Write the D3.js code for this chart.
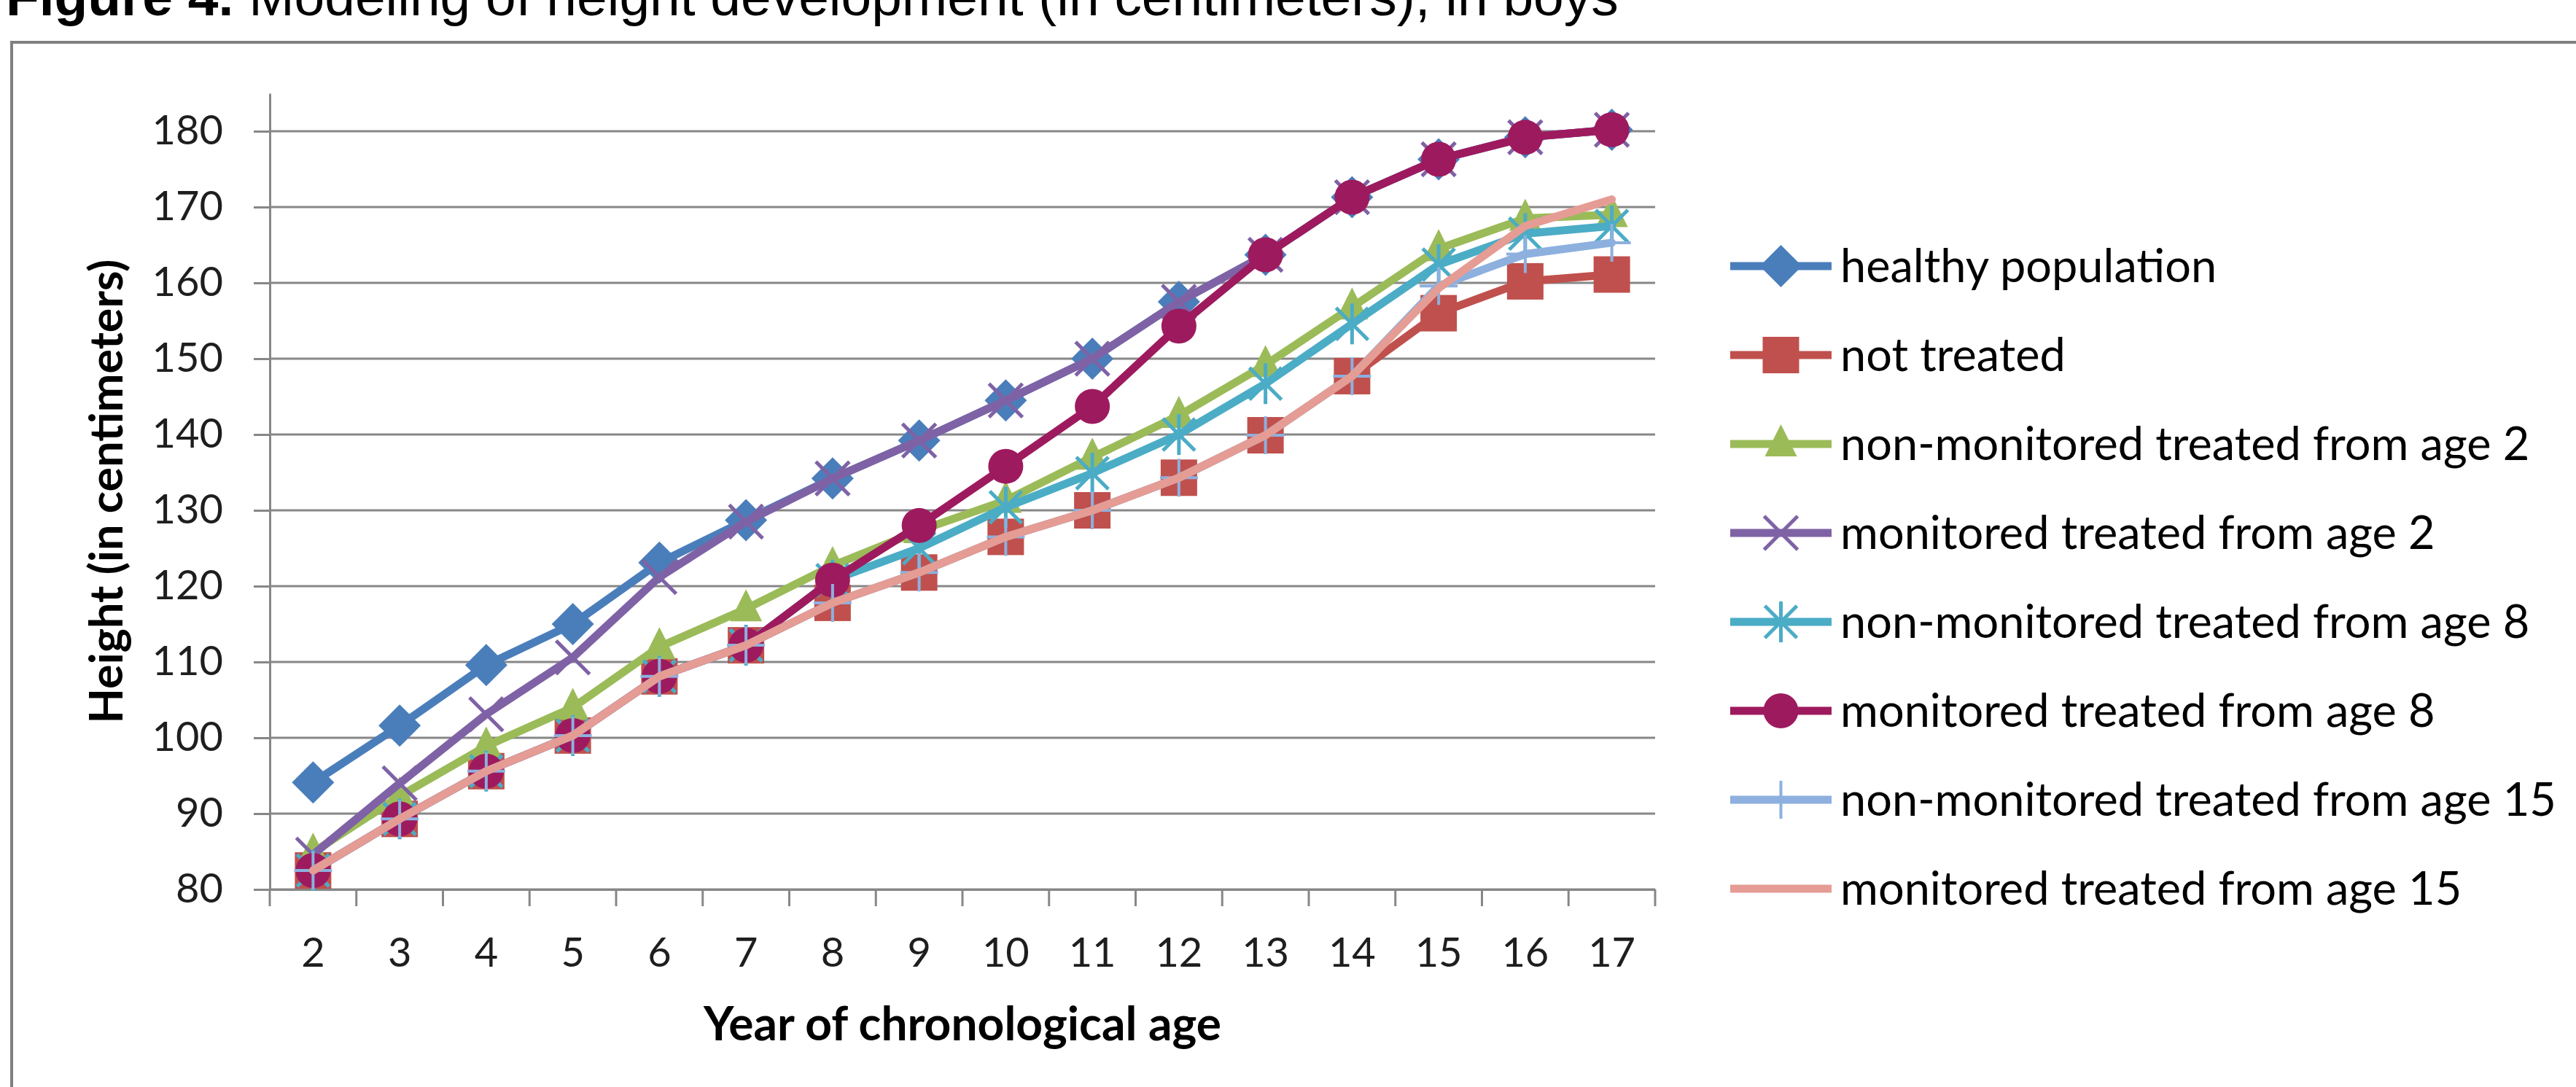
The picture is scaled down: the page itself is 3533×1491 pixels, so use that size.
<!DOCTYPE html>
<html><head><meta charset="utf-8">
<script src="https://cdn.jsdelivr.net/npm/d3@7"></script>
<style>body{margin:0;background:#fff;} svg{display:block;}</style>
</head><body>
<svg id="chart" width="3533" height="1491"></svg>
<script>
// ---------------- data ----------------
const ages = [2,3,4,5,6,7,8,9,10,11,12,13,14,15,16,17];
const seriesNames = [
  "healthy population",
  "not treated",
  "non-monitored treated from age 2",
  "monitored treated from age 2",
  "non-monitored treated from age 8",
  "monitored treated from age 8",
  "non-monitored treated from age 15",
  "monitored treated from age 15"
];
const healthy      = [94.1,101.6,109.6,115.0,123.1,128.7,134.2,139.2,144.5,150.0,157.5,163.7,171.3,176.3,179.2,180.2];
const notTreated   = [82.5, 89.3, 95.6,100.3,108.1,112.2,117.8,121.8,126.5,130.0,134.3,139.9,147.7,156.0,160.2,161.1];
const nonMon2      = [84.9, 92.3, 98.9,104.0,112.0,117.0,122.7,127.3,131.3,137.0,142.5,149.2,156.8,164.5,168.5,169.0];
const mon2         = [84.6, 94.0,103.1,110.6,121.2,128.5,134.2,139.2,144.5,150.0,157.5,163.7,171.3,176.3,179.2,180.2];
const nonMon8      = [82.5, 89.3, 95.6,100.3,108.1,112.2,120.8,125.0,130.4,134.9,140.0,146.7,154.6,162.4,166.5,167.5];
const mon8         = [82.5, 89.3, 95.6,100.3,108.1,112.2,120.8,128.0,135.8,143.7,154.3,163.7,171.3,176.3,179.2,180.2];
const nonMon15     = [82.5, 89.3, 95.6,100.3,108.1,112.2,117.8,121.8,126.5,130.0,134.3,139.9,147.7,159.6,163.8,165.3];
const mon15        = [82.5, 89.3, 95.6,100.3,108.1,112.2,117.8,121.8,126.5,130.0,134.3,139.9,147.7,159.3,167.5,171.0];
const yTicks = [80,90,100,110,120,130,140,150,160,170,180];
const titleBold = "Figure 4.";
const titleRest = " Modeling of height development (in centimeters), in boys";
const xTitle = "Year of chronological age";
const yTitle = "Height (in centimeters)";

// ---------------- styles ----------------
const seriesValues = [healthy, notTreated, nonMon2, mon2, nonMon8, mon8, nonMon15, mon15];
const colors  = ["#4A7EBB","#C0504D","#9BBB59","#7F62A5","#4BACC6","#9E1A5E","#8DB0DF","#E59C94"];
const markers = ["diamond","square","triangle","x","star","circle","plus","none"];

const W = 3533, H = 1491;
const pLeft = 370, pRight = 2270, pTop = 128, pBottom = 1220;
const FONT = "Lato, 'Open Sans', sans-serif";
const GRID = "#878787";

const svg = d3.select("#chart");
svg.append("rect").attr("width", W).attr("height", H).attr("fill", "#fff");

function fit(sel, w) {
  const L = sel.node().getComputedTextLength();
  const fs = parseFloat(sel.attr("font-size"));
  sel.attr("font-size", fs * w / L);
}

// title (partially cut at the top)
const title = svg.append("text").attr("x", 8).attr("y", 21)
  .attr("font-family", "'Liberation Sans', Arial, sans-serif").attr("font-size", 66).attr("fill", "#000");
title.append("tspan").attr("font-weight", "bold").text(titleBold);
title.append("tspan").text(titleRest);
fit(title, 2212);

// frame
svg.append("rect").attr("x", 16).attr("y", 58).attr("width", W).attr("height", H)
  .attr("fill", "none").attr("stroke", "#808080").attr("stroke-width", 4);

// scales
const x = d3.scaleBand().domain(ages).range([pLeft, pRight]);
const cx = a => x(a) + x.bandwidth() / 2;
const y = d3.scaleLinear().domain([80, 185]).range([pBottom, pTop]);

// gridlines
svg.append("g").selectAll("line").data(yTicks).join("line")
  .attr("x1", pLeft).attr("x2", pRight).attr("y1", d => y(d)).attr("y2", d => y(d))
  .attr("stroke", GRID).attr("stroke-width", 3);

// y axis
const yAxis = svg.append("g").attr("transform", `translate(${pLeft},0)`)
  .call(d3.axisLeft(y).tickValues(yTicks).tickSizeInner(22).tickSizeOuter(0).tickPadding(42));
yAxis.select(".domain").attr("stroke", GRID).attr("stroke-width", 3);
yAxis.selectAll(".tick line").attr("stroke", GRID).attr("stroke-width", 3);
yAxis.selectAll(".tick text").attr("font-family", FONT).attr("font-size", 56).attr("fill", "#1e1e1e");

// x axis
const xAxis = svg.append("g").attr("transform", `translate(0,${pBottom})`)
  .call(d3.axisBottom(x).tickSize(0).tickPadding(66));
xAxis.select(".domain").attr("stroke", GRID).attr("stroke-width", 3);
xAxis.selectAll(".tick text").attr("font-family", FONT).attr("font-size", 56).attr("fill", "#1e1e1e");
const bounds = d3.range(ages.length + 1).map(i => pLeft + i * x.step());
xAxis.append("g").selectAll("line").data(bounds).join("line")
  .attr("x1", d => d).attr("x2", d => d).attr("y1", 0).attr("y2", 23)
  .attr("stroke", GRID).attr("stroke-width", 3);

// axis titles
const xt = svg.append("text").attr("x", (pLeft + pRight) / 2).attr("y", 1427)
  .attr("text-anchor", "middle").attr("font-family", FONT).attr("font-weight", "bold")
  .attr("font-size", 56).attr("fill", "#000").text(xTitle);
fit(xt, 710);
const yt = svg.append("text").attr("transform", `translate(168,${(pTop + pBottom) / 2}) rotate(-90)`)
  .attr("text-anchor", "middle").attr("font-family", FONT).attr("font-weight", "bold")
  .attr("font-size", 56).attr("fill", "#000").text(yTitle);
fit(yt, 637);

// markers
function drawMarker(g, type, color) {
  switch (type) {
    case "diamond":
      g.append("path").attr("d", "M0,-29L29,0L0,29L-29,0Z").attr("fill", color); break;
    case "square":
      g.append("rect").attr("x", -25).attr("y", -25).attr("width", 50).attr("height", 50).attr("fill", color); break;
    case "triangle":
      g.append("path").attr("d", "M0,-27L22,17L-22,17Z").attr("fill", color); break;
    case "circle":
      g.append("circle").attr("r", 24).attr("fill", color); break;
    case "x":
      g.append("path").attr("d", "M-23,-23L23,23M-23,23L23,-23").attr("stroke", color).attr("stroke-width", 5).attr("fill", "none"); break;
    case "star":
      g.append("path").attr("d", "M-22,-22L22,22M-22,22L22,-22M0,-28L0,28").attr("stroke", color).attr("stroke-width", 5).attr("fill", "none"); break;
    case "plus":
      g.append("path").attr("d", "M0,-26L0,26M-26,0L26,0").attr("stroke", color).attr("stroke-width", 4).attr("fill", "none"); break;
  }
}

// series
const line = d3.line().x((d, i) => cx(ages[i])).y(d => y(d));
seriesValues.forEach((vals, s) => {
  const g = svg.append("g");
  g.append("path").attr("d", line(vals)).attr("fill", "none")
    .attr("stroke", colors[s]).attr("stroke-width", 11)
    .attr("stroke-linejoin", "round").attr("stroke-linecap", "round");
  if (markers[s] !== "none") {
    vals.forEach((v, i) => {
      const mg = g.append("g").attr("transform", `translate(${cx(ages[i])},${y(v)})`);
      drawMarker(mg, markers[s], colors[s]);
    });
  }
});

// legend
const legX1 = 2373, legX2 = 2512, legText = 2524, legY0 = 365, legStep = 122;
const leg = svg.append("g");
const legTexts = [];
seriesNames.forEach((name, s) => {
  const ly = legY0 + s * legStep;
  leg.append("line").attr("x1", legX1).attr("x2", legX2).attr("y1", ly).attr("y2", ly)
    .attr("stroke", colors[s]).attr("stroke-width", 11);
  if (markers[s] !== "none") {
    const mg = leg.append("g").attr("transform", `translate(${(legX1 + legX2) / 2},${ly})`);
    drawMarker(mg, markers[s], colors[s]);
  }
  legTexts.push(leg.append("text").attr("x", legText).attr("y", ly).attr("dy", "0.35em")
    .attr("font-family", FONT).attr("font-size", 56).attr("fill", "#000").text(name));
});
let longest = legTexts[0];
legTexts.forEach(t => { if (t.node().getComputedTextLength() > longest.node().getComputedTextLength()) longest = t; });
const legFs = 56 * 982 / longest.node().getComputedTextLength();
legTexts.forEach(t => t.attr("font-size", legFs));
</script>
</body></html>
